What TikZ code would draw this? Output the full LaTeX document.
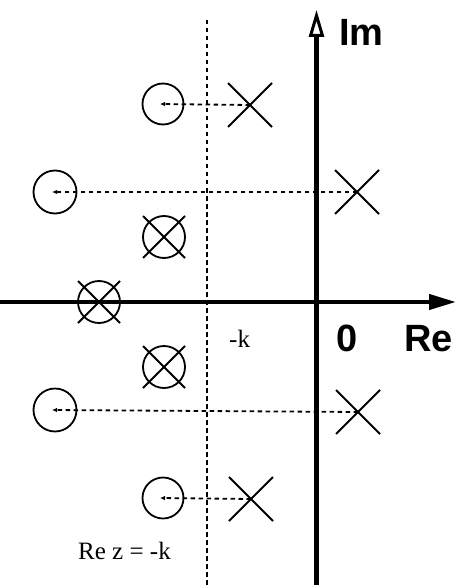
\documentclass[tikz,border=0pt]{standalone}
\usepackage{fontspec}
\setmainfont{Liberation Serif}
\newfontfamily\arialb{Liberation Sans}
\usetikzlibrary{arrows.meta,calc}
\begin{document}
\begin{tikzpicture}[x=1pt,y=-1pt,
  axis/.style={line width=4.2pt},
  dotline/.style={line width=1.8pt, dash pattern=on 4.5pt off 3.5pt},
  ring/.style={circle, draw, line width=1.8pt, minimum size=41pt, inner sep=0pt},
  pole/.style={line width=1.8pt},
  guide/.style={line width=1.8pt, dash pattern=on 4.5pt off 3.5pt, -{Latex[length=5pt,width=4.5pt]}},
  biglabel/.style={font=\arialb\bfseries\fontsize{38}{42}\selectfont, inner sep=0pt},
  smalllabel/.style={font=\fontsize{25}{28}\selectfont, inner sep=0pt}
]
\useasboundingbox (0,0) rectangle (456,585);
% coordinates
\coordinate (o) at (316.5,302);
\coordinate (imtop) at (316.5,10);
\coordinate (imbot) at (316.5,585);
\coordinate (releft) at (0,302);
\coordinate (reright) at (456,302);
\coordinate (dtop) at (207,20);
\coordinate (dbot) at (207,585);
% dotted line Re z = -k
\draw[dotline] (dtop) -- (dbot);
% axes
\draw[axis, -{Triangle[open, length=27pt, width=15pt, line width=3pt]}] (imbot) -- (imtop);
\draw[axis, -{Triangle[length=27pt, width=15pt]}] (releft) -- (reright);
% X poles
\foreach \n/\x/\y in {x1/250/105, x2/357/192, x3/358/412, x4/251/499}{
  \coordinate (\n) at (\x,\y);
  \draw[pole] ($(\n)+(-22,-22)$) -- ($(\n)+(22,22)$);
  \draw[pole] ($(\n)+(-22,22)$) -- ($(\n)+(22,-22)$);
}
% circles
\node[ring] (c1) at (163,104) {};
\node[ring, minimum size=43pt] (c2) at (55,192) {};
\node[ring, minimum size=43pt] (c3) at (55,410) {};
\node[ring] (c4) at (163,498) {};
% guide lines
\draw[guide] (x1) -- ($(c1.center)+(-3,0)$);
\draw[guide] (x2) -- ($(c2.center)+(-3,0)$);
\draw[guide] (x3) -- ($(c3.center)+(-3,0)$);
\draw[guide] (x4) -- ($(c4.center)+(-3,0)$);
% circled crosses
\foreach \n/\x/\y in {a/164/237, b/99/302, c/164/367}{
  \node[ring, minimum size=42pt] (z\n) at (\x,\y) {};
  \draw[pole] ($(z\n.center)+(-21,-21)$) -- ($(z\n.center)+(21,21)$);
  \draw[pole] ($(z\n.center)+(-21,21)$) -- ($(z\n.center)+(21,-21)$);
}
% labels
\node[biglabel, anchor=base west] (im) at (339,46) {Im};
\node[biglabel, anchor=base west] (zero) at (336,351) {0};
\node[biglabel, anchor=base west] (re) at (404,351) {Re};
\node[smalllabel, anchor=base west] (mk) at (229,347) {-k};
\node[smalllabel, anchor=base west] (rez) at (78,559) {Re z = -k};
\end{tikzpicture}
\end{document}
